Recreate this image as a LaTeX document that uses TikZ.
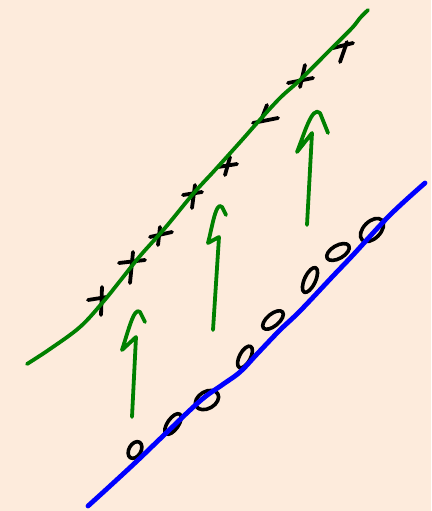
\documentclass[tikz,border=0pt]{standalone}
\definecolor{bgpeach}{RGB}{253,235,220}
\definecolor{pgreen}{RGB}{0,128,0}
\definecolor{pblue}{RGB}{0,0,255}
\begin{document}
\begin{tikzpicture}[x=1pt,y=-1pt,
  pen/.style={line cap=round,line join=round},
  greenpen/.style={pen,pgreen,line width=3.8pt},
  bluepen/.style={pen,pblue,line width=4.8pt},
  markpen/.style={pen,black,line width=3.8pt}]
\fill[bgpeach] (0,0) rectangle (431,511);
\useasboundingbox (0,0) rectangle (431,511);
% o marks
\foreach \cx/\cy/\ra/\rb/\an in {135/450/9/6/60,173/424/12/5.5/55,207/400/12.5/8.5/30,245/357/12/5.5/62,273/320/12.5/6/40,310/280/13.5/5.5/65,338/252/12.5/6.5/30,372/230/14/8.5/45}{
  \draw[markpen,line width=3.6pt,rotate around={\an:(\cx,\cy)}] (\cx,\cy) ellipse [x radius=\ra pt,y radius=\rb pt];
}
% blue line
\draw[bluepen] plot[smooth,tension=0.6] coordinates {(88,506) (110,486) (137,461) (163,436) (200,401) (222,385) (240,372) (258,353) (280,330) (300,311) (333,276) (353,255) (390,215) (425,183)};
% x marks
\draw[markpen] (88,300) -- (107,297); \draw[markpen] (102,287) -- (101,315);
\draw[markpen] (119,263) -- (145,260); \draw[markpen] (133,252) -- (130,283);
\draw[markpen] (150,237) -- (172,232); \draw[markpen] (160,227) -- (158,245);
\draw[markpen] (183,195) -- (202,192); \draw[markpen] (195,185) -- (192,208);
\draw[markpen] (218,167) -- (237,164); \draw[markpen] (230,157) -- (225,175);
\draw[markpen] (267,105) -- (262,118); \draw[markpen] (253,123) -- (278,118);
\draw[markpen] (288,83) -- (313,78); \draw[markpen] (305,65) -- (300,87);
\draw[markpen] (333,48) -- (353,43); \draw[markpen] (347,42) -- (340,62);
% green curve
\draw[greenpen] plot[smooth,tension=0.6] coordinates {(27,364) (50,349) (80,327) (103,302) (120,281) (140,256) (165,228) (193,194) (215,170) (242,140) (257,123) (280,98) (300,80) (330,50) (352,28) (360,18) (368,10)};
% green arrows
\draw[greenpen] (132,417) -- (136,337) -- (122,350) .. controls (128,332) and (134,306) .. (140,312) -- (145,322);
\draw[greenpen] (213,330) -- (219,237) -- (208,243) .. controls (212,228) and (216,200) .. (222,207) -- (226,215);
\draw[greenpen] (307,225) -- (312,133) -- (297,152) .. controls (304,135) and (312,105) .. (320,113) -- (328,133);
\end{tikzpicture}
\end{document}
